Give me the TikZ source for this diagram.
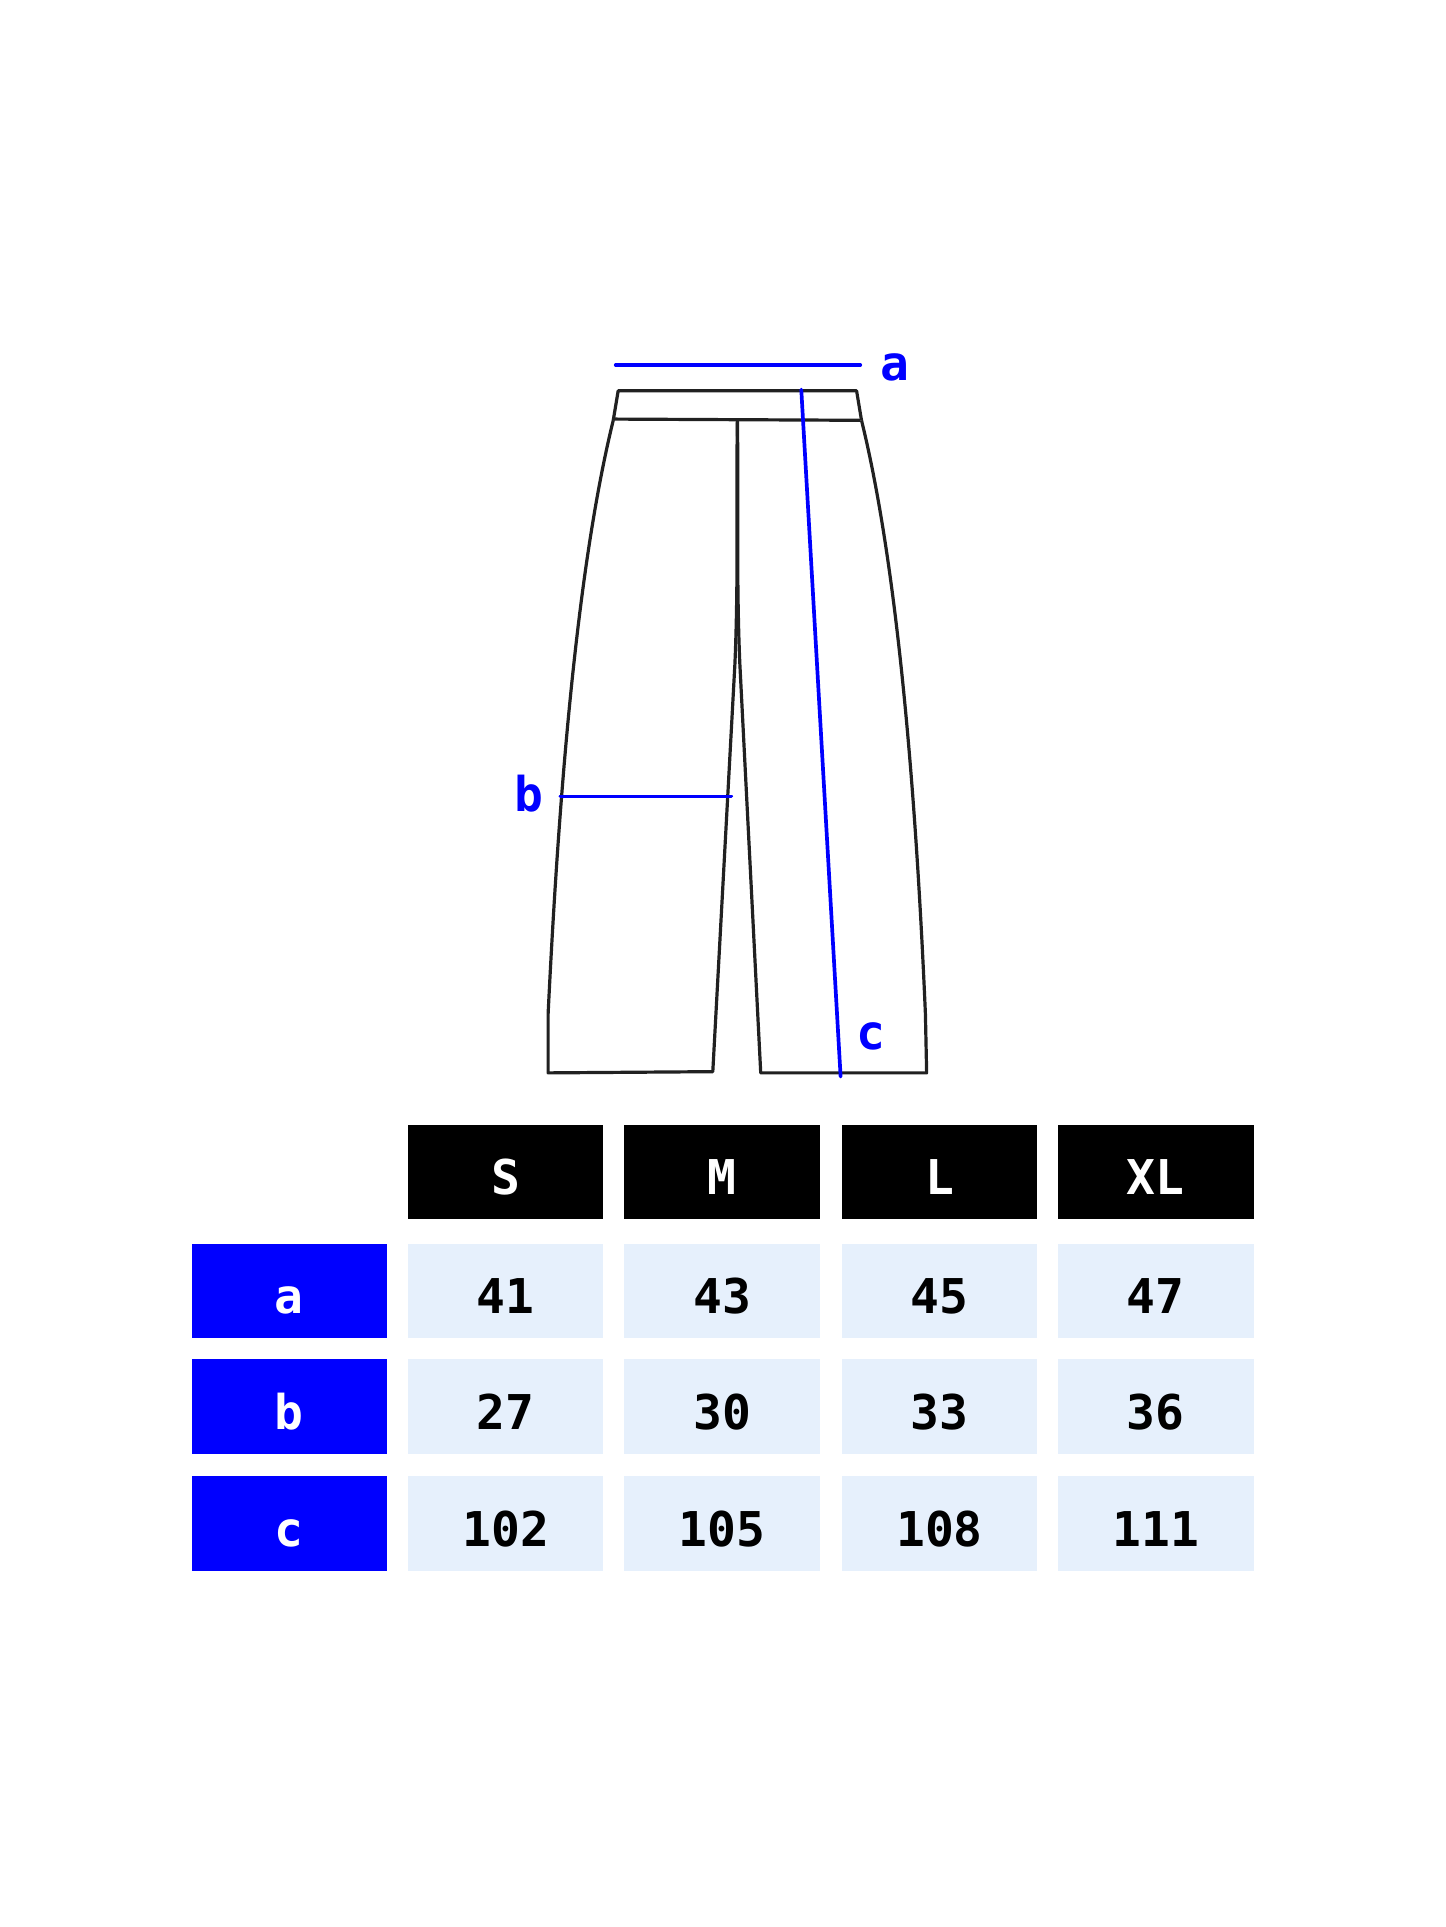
\documentclass[tikz,border=0pt]{standalone}
\usepackage{fontspec}
\setmonofont{DejaVu Sans Mono}
\begin{document}
\begin{tikzpicture}[x=1pt,y=-1pt,
  pant/.style={draw=black!87,line width=2.6pt,line join=round},
  meas/.style={draw=blue,line width=3pt,line cap=round},
  mlab/.style={text=blue,font=\ttfamily\bfseries\fontsize{39}{39}\selectfont},
  tcell/.style={minimum width=159pt,minimum height=77pt,inner sep=0pt,font=\ttfamily\bfseries\fontsize{39}{39}\selectfont,text depth=0pt,text height=37pt},
  hcell/.style={tcell,fill=black,text=white},
  rcell/.style={tcell,fill=blue,text=white},
  dcell/.style={tcell,fill={rgb,255:red,230;green,240;blue,252},text=black}]
\useasboundingbox (0,0) rectangle (1176,1568);
% pants
\draw[pant] (499,342) -- (503,318) -- (697,318) -- (701,342);
\draw[pant] (499,341) -- (700,342);
\draw[pant] (499,342) .. controls (470,460) and (455,640) .. (446,825) -- (446,873) -- (580,872) -- (598,540) .. controls (601,470) and (599,400) .. (600,342);
\draw[pant] (600,342) .. controls (601,400) and (599,470) .. (602,540) -- (619,873) -- (754,873) -- (753,825) .. controls (745,640) and (730,460) .. (701,342);
% measures
\draw[meas] (501,297) -- (700,297);
\node[mlab] (la) at (728,299) {a};
\draw[meas] (456,648) -- (595,648);
\node[mlab] (lb) at (430,646) {b};
\draw[meas] (652,317) -- (684,876);
\node[mlab] (lc) at (709,843) {c};
% table
\node[hcell] (hS) at (411.5,953.5) {S};
\node[hcell] (hM) at (587.5,953.5) {M};
\node[hcell] (hL) at (764.5,953.5) {L};
\node[hcell] (hXL) at (940.5,953.5) {XL};
\foreach \r/\y/\va/\vb/\vc/\vd in {a/1050.5/41/43/45/47, b/1144.5/27/30/33/36, c/1239.5/102/105/108/111}{
  \node[rcell] (r\r) at (235.5,\y) {\r};
  \node[dcell] (\r1) at (411.5,\y) {\va};
  \node[dcell] (\r2) at (587.5,\y) {\vb};
  \node[dcell] (\r3) at (764.5,\y) {\vc};
  \node[dcell] (\r4) at (940.5,\y) {\vd};
}
\end{tikzpicture}
\end{document}
